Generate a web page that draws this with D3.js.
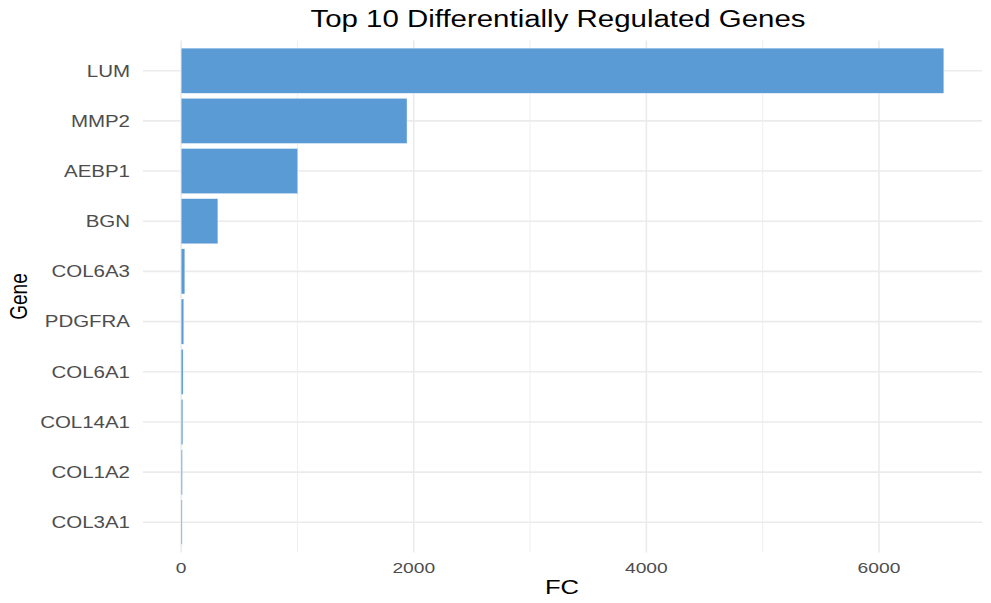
<!DOCTYPE html>
<html>
<head>
<meta charset="utf-8">
<script src="https://cdn.jsdelivr.net/npm/d3@7"></script>
<style>
  body { margin: 0; background: #fff; }
  text { font-family: "Liberation Sans", Arial, sans-serif; }
</style>
</head>
<body>
<svg width="991" height="603"></svg>
<script>
// values
var genes = ["LUM", "MMP2", "AEBP1", "BGN", "COL6A3", "PDGFRA", "COL6A1", "COL14A1", "COL1A2", "COL3A1"];
var fc    = [6558, 1942, 1003, 316, 32, 23, 17, 15, 11, 9];
var xTicks = [0, 2000, 4000, 6000];
var xMinor = [1000, 3000, 5000];

var W = 991, H = 603;
var pLeft = 143, pRight = 982, pTop = 40.6, pBottom = 552.4;
var sx = 1.28;   // text in the picture is stretched sideways

var svg = d3.select("svg");
var maxV = d3.max(fc);

var x = d3.scaleLinear()
    .domain([-0.05 * maxV, 1.05 * maxV])
    .range([pLeft, pRight]);

var step = (pBottom - pTop) / (genes.length + 0.2);
var y = d3.scalePoint()
    .domain(genes)
    .range([pTop + 0.6 * step, pBottom - 0.6 * step]);

// grid
var grid = svg.append("g");
grid.selectAll(".minor").data(xMinor).enter().append("line")
    .attr("x1", d => x(d)).attr("x2", d => x(d))
    .attr("y1", pTop).attr("y2", pBottom)
    .attr("stroke", "#ebebeb").attr("stroke-width", 0.8);
grid.selectAll(".major").data(xTicks).enter().append("line")
    .attr("x1", d => x(d)).attr("x2", d => x(d))
    .attr("y1", pTop).attr("y2", pBottom)
    .attr("stroke", "#ebebeb").attr("stroke-width", 1.6);
grid.selectAll(".hmajor").data(genes).enter().append("line")
    .attr("x1", pLeft).attr("x2", pRight)
    .attr("y1", d => y(d)).attr("y2", d => y(d))
    .attr("stroke", "#ebebeb").attr("stroke-width", 1.6);

// bars
var rows = genes.map((g, i) => ({ gene: g, v: fc[i] }));
svg.append("g").selectAll("rect").data(rows).enter().append("rect")
    .attr("x", x(0))
    .attr("y", d => y(d.gene) - 0.45 * step)
    .attr("width", d => x(d.v) - x(0))
    .attr("height", 0.9 * step)
    .attr("fill", "#5b9bd5")
    .attr("stroke", "#ffffff").attr("stroke-width", 0.35);

// helper: stretched text
function label(px, py, str, size, color, anchor, rot) {
    var t = "translate(" + px + "," + py + ") scale(" + sx + ",1)";
    if (rot) t += " rotate(" + rot + ")";
    svg.append("text")
        .attr("transform", t)
        .attr("text-anchor", anchor)
        .attr("font-size", size)
        .attr("fill", color)
        .text(str);
}

// y tick labels
genes.forEach(g => label(130, y(g) + 5.8, g, 16, "#4d4d4d", "end"));
// x tick labels
xTicks.forEach(v => label(x(v), 572.5, d3.format("d")(v), 15, "#4d4d4d", "middle"));

// titles
label(558, 27, "Top 10 Differentially Regulated Genes", 23, "#000", "middle");
label(562, 594, "FC", 20, "#000", "middle");
label(27, (pTop + pBottom) / 2, "Gene", 19, "#000", "middle", -90);
</script>
</body>
</html>
